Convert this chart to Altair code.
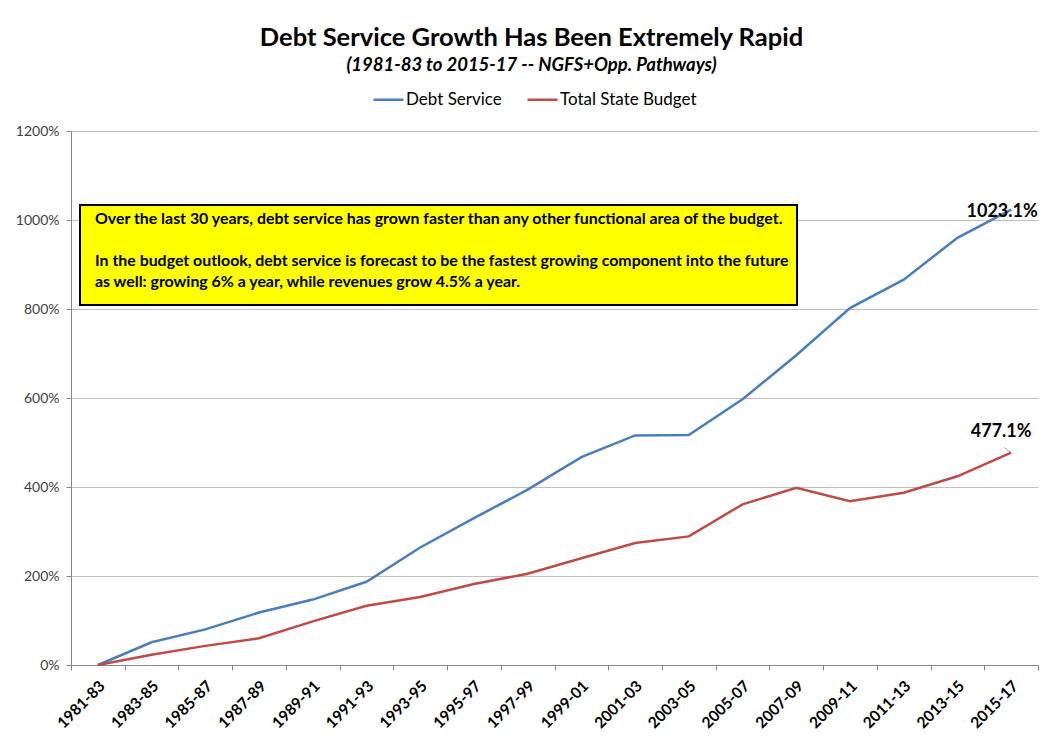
import altair as alt
import pandas as pd

categories = ["1981-83", "1983-85", "1985-87", "1987-89", "1989-91", "1991-93",
              "1993-95", "1995-97", "1997-99", "1999-01", "2001-03", "2003-05",
              "2005-07", "2007-09", "2009-11", "2011-13", "2013-15", "2015-17"]
debt_service = [0, 51, 80, 118, 147, 187, 264, 330, 394, 467, 516, 517,
                597, 696, 802, 866, 960, 1023.1]
state_budget = [0, 23, 43, 60, 98, 133, 153, 182, 205, 240, 274, 289,
                361, 398, 368, 387, 424, 477.1]
series_names = ["Debt Service", "Total State Budget"]
series_colors = ["#4A7EBB", "#BE4B48"]
end_labels = ["1023.1%", "477.1%"]

note_line1 = "Over the last 30 years, debt service has grown faster than any other functional area of the budget."
note_para2 = ("In the budget outlook, debt service is forecast to be the fastest growing component into the future\n"
              "as well: growing 6% a year, while revenues grow 4.5% a year.")

rows = []
for c, v in zip(categories, debt_service):
    rows.append({"period": c, "series": series_names[0], "value": v})
for c, v in zip(categories, state_budget):
    rows.append({"period": c, "series": series_names[1], "value": v})
df = pd.DataFrame(rows)

last = pd.DataFrame({
    "period": [categories[-1], categories[-1]],
    "series": series_names,
    "value": [debt_service[-1], state_budget[-1]],
    "label": end_labels,
})

FONT = "Lato"

x_enc = alt.X("period:N", sort=categories, title=None,
              scale=alt.Scale(paddingInner=0, paddingOuter=0),
              axis=alt.Axis(labelAngle=-45, labelAlign="right", labelBaseline="middle",
                            labelFontWeight="bold", labelFontSize=15.5, labelColor="#000000",
                            labelFont=FONT, labelPadding=13, labelOffset=4,
                            tickBand="extent", tickSize=5, tickColor="#868686",
                            domainColor="#868686", grid=False))
y_enc = alt.Y("value:Q", title=None,
              scale=alt.Scale(domain=[0, 1200], nice=False),
              axis=alt.Axis(values=[0, 200, 400, 600, 800, 1000, 1200],
                            labelExpr="datum.value + '%'", labelFontSize=14,
                            labelColor="#404040", labelFont=FONT, labelPadding=7,
                            tickSize=5, tickColor="#868686", domainColor="#868686",
                            gridColor="#BFBFBF", gridWidth=1))

lines = alt.Chart(df).mark_line(strokeWidth=2.5).encode(
    x=x_enc, y=y_enc,
    color=alt.Color("series:N", scale=alt.Scale(domain=series_names, range=series_colors),
                    legend=alt.Legend(title=None, orient="none", legendX=301, legendY=-48,
                                      direction="horizontal", symbolType="stroke",
                                      symbolSize=900, symbolStrokeWidth=2.5,
                                      labelFontSize=17, labelFont=FONT, labelColor="#000000",
                                      columnPadding=20, labelOffset=1)),
)

xs = alt.X("period:N", sort=categories)

blue_label = alt.Chart(last[last.series == series_names[0]]).mark_text(
    font=FONT, fontSize=18, fontWeight="bold", color="#000000", dx=-9, dy=2,
    align="center", baseline="middle").encode(x=xs, y="value:Q", text="label:N")

red_label = alt.Chart(last[last.series == series_names[1]]).mark_text(
    font=FONT, fontSize=18, fontWeight="bold", color="#000000", dx=-10, dy=-21,
    align="center", baseline="middle").encode(x=xs, y="value:Q", text="label:N")

leader = alt.Chart(last[last.series == series_names[1]]).mark_point(
    shape="M0,0L-1,-0.75", size=196, filled=False, stroke="#A6A6A6",
    strokeWidth=1, opacity=1).encode(x=xs, y="value:Q")

box = alt.Chart(pd.DataFrame({"d": [0]})).mark_rect(
    fill="#FFFF00", stroke="#000000", strokeWidth=2).encode(
    x=alt.value(9), x2=alt.value(726), y=alt.value(74), y2=alt.value(174))

note1 = alt.Chart(pd.DataFrame({"t": [note_line1]})).mark_text(
    font=FONT, fontSize=15.9, fontWeight="bold", color="#000000", align="left",
    baseline="middle").encode(x=alt.value(24), y=alt.value(88), text="t:N")

note2 = alt.Chart(pd.DataFrame({"t": [note_para2]})).mark_text(
    font=FONT, fontSize=15.9, fontWeight="bold", color="#000000", align="left",
    baseline="middle", lineBreak="\n", lineHeight=21).encode(
    x=alt.value(24), y=alt.value(130), text="t:N")

chart = alt.layer(lines, box, note1, note2, leader, blue_label, red_label).properties(
    width=967, height=534,
    autosize=alt.AutoSizeParams(type="none"),
    padding={"left": 63, "top": 123, "right": 3, "bottom": 68},
    background="#FFFFFF",
    title=alt.TitleParams(
        text="Debt Service Growth Has Been Extremely Rapid",
        subtitle="(1981-83 to 2015-17 -- NGFS+Opp. Pathways)",
        anchor="middle", frame="group", dx=-23, offset=9,
        font=FONT, fontSize=25.5, fontWeight="bold", color="#000000",
        subtitleFont=FONT, subtitleFontSize=18.5, subtitleFontWeight="bold",
        subtitleFontStyle="italic", subtitleColor="#000000", subtitlePadding=4),
).configure_view(stroke=None)

chart.save("out.html", embed_options={"renderer": "svg", "actions": False})
